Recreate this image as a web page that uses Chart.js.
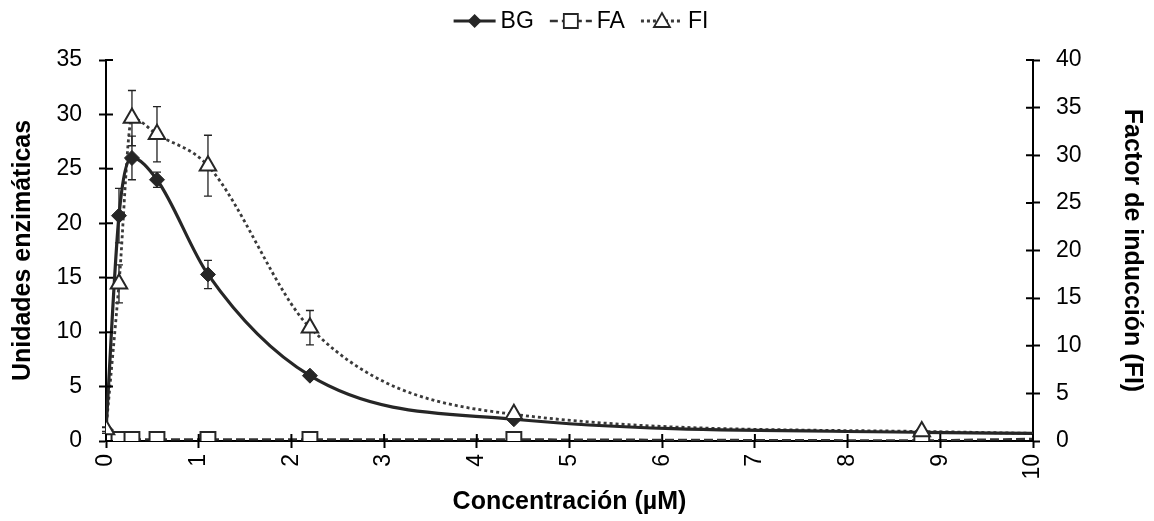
<!DOCTYPE html>
<html>
<head>
<meta charset="utf-8">
<script src="https://cdn.jsdelivr.net/npm/chart.js@4.4.1/dist/chart.umd.min.js"></script>
<style>
  html, body { margin: 0; padding: 0; background: #fff; }
  #wrap { width: 1154px; height: 521px; }
</style>
</head>
<body>
<div id="wrap"><canvas id="chart" width="1154" height="521"></canvas></div>
<script>
// Concentración (µM) of each measured point
const concentration = [0, 0.14, 0.28, 0.55, 1.1, 2.2, 4.4, 8.8];
// BG and FA: unidades enzimáticas (left axis)
const bgValues = [1.0, 20.7, 26.0, 24.0, 15.3, 6.0, 2.0, 0.8];
const bgErrors = [0.3, 2.5, 2.0, 0.7, 1.3, 0.3, 0.2, 0.1];
const faValues = [0.15, 0.15, 0.15, 0.15, 0.15, 0.15, 0.15, 0.05];
// FI: factor de inducción (right axis)
const fiValues = [1.2, 16.5, 33.9, 32.2, 28.9, 11.9, 2.8, 1.0];
const fiErrors = [0.2, 2.0, 2.9, 2.9, 3.2, 1.8, 0.3, 0.2];
// the fitted curves run on to the end of the axis
const curveEndX = 10;
const bgCurveEnd = 0.7;
const faCurveEnd = 0.2;
const fiCurveEnd = 0.8;

const seriesNames = ['BG', 'FA', 'FI'];
const xTicks = [0, 1, 2, 3, 4, 5, 6, 7, 8, 9, 10];
const leftTicks = [0, 5, 10, 15, 20, 25, 30, 35];
const rightTicks = [0, 5, 10, 15, 20, 25, 30, 35, 40];

const FONT = "'Liberation Sans', Arial, sans-serif";
const INK = '#262626';

function points(values, endY) {
  const pts = concentration.map((x, i) => ({ x: x, y: values[i] }));
  if (endY !== undefined) pts.push({ x: curveEndX, y: endY });
  return pts;
}

function fixedTicks(list) {
  return scale => { scale.ticks = list.map(v => ({ value: v })); };
}

// vertical error bars with small caps
const errorBars = {
  id: 'errorBars',
  beforeDatasetsDraw(chart) {
    const ctx = chart.ctx;
    const x = chart.scales.x;
    const sets = [
      { scale: chart.scales.y, vals: bgValues, errs: bgErrors },
      { scale: chart.scales.y1, vals: fiValues, errs: fiErrors }
    ];
    ctx.save();
    ctx.strokeStyle = '#222';
    ctx.lineWidth = 1.3;
    sets.forEach(s => {
      s.vals.forEach((v, i) => {
        const px = x.getPixelForValue(concentration[i]);
        const top = s.scale.getPixelForValue(v + s.errs[i]);
        const bot = s.scale.getPixelForValue(v - s.errs[i]);
        ctx.beginPath();
        ctx.moveTo(px, top); ctx.lineTo(px, bot);
        ctx.moveTo(px - 4, top); ctx.lineTo(px + 4, top);
        ctx.moveTo(px - 4, bot); ctx.lineTo(px + 4, bot);
        ctx.stroke();
      });
    });
    ctx.restore();
  }
};

// tick marks that cross the axis lines
const innerTicks = {
  id: 'innerTicks',
  afterDraw(chart) {
    const ctx = chart.ctx;
    const { x, y, y1 } = chart.scales;
    ctx.save();
    ctx.strokeStyle = '#000';
    ctx.lineWidth = 2;
    ctx.beginPath();
    x.ticks.forEach(t => {
      const px = x.getPixelForValue(t.value);
      ctx.moveTo(px, x.top); ctx.lineTo(px, x.top - 7);
    });
    y.ticks.forEach(t => {
      const py = y.getPixelForValue(t.value);
      ctx.moveTo(y.right, py); ctx.lineTo(y.right + 7, py);
    });
    y1.ticks.forEach(t => {
      const py = y1.getPixelForValue(t.value);
      ctx.moveTo(y1.left, py); ctx.lineTo(y1.left - 7, py);
    });
    ctx.stroke();
    ctx.restore();
  }
};

// legend drawn like the original: line sample with marker, then name
const lineLegend = {
  id: 'lineLegend',
  afterDraw(chart) {
    const ctx = chart.ctx;
    const cy = 21;
    const sampleW = 42;
    const styles = [
      { dash: [], width: 3, color: INK, marker: 'diamond' },
      { dash: [8, 4], width: 2.5, color: '#333', marker: 'square' },
      { dash: [3, 3], width: 2.8, color: '#3a3a3a', marker: 'triangle' }
    ];
    ctx.save();
    ctx.font = '23px ' + FONT;
    const gap = 5, between = 16;
    let total = 0;
    seriesNames.forEach((n, i) => {
      total += sampleW + gap + ctx.measureText(n).width + (i ? between : 0);
    });
    let cx = 581 - total / 2;
    seriesNames.forEach((name, i) => {
      const st = styles[i];
      ctx.setLineDash(st.dash);
      ctx.strokeStyle = st.color;
      ctx.lineWidth = st.width;
      ctx.beginPath();
      ctx.moveTo(cx, cy); ctx.lineTo(cx + sampleW, cy);
      ctx.stroke();
      ctx.setLineDash([]);
      const mx = cx + sampleW / 2;
      ctx.lineWidth = 1.8;
      ctx.strokeStyle = INK;
      ctx.beginPath();
      if (st.marker === 'diamond') {
        ctx.fillStyle = INK;
        ctx.moveTo(mx, cy - 7); ctx.lineTo(mx + 7, cy); ctx.lineTo(mx, cy + 7); ctx.lineTo(mx - 7, cy);
        ctx.closePath(); ctx.fill();
      } else if (st.marker === 'square') {
        ctx.fillStyle = '#fff';
        ctx.rect(mx - 7, cy - 7, 14, 14); ctx.fill(); ctx.stroke();
      } else {
        ctx.fillStyle = '#fff';
        ctx.moveTo(mx, cy - 8); ctx.lineTo(mx + 8, cy + 6); ctx.lineTo(mx - 8, cy + 6);
        ctx.closePath(); ctx.fill(); ctx.stroke();
      }
      ctx.fillStyle = '#000';
      ctx.textBaseline = 'middle';
      ctx.textAlign = 'left';
      ctx.fillText(name, cx + sampleW + gap, cy + 1);
      cx += sampleW + gap + ctx.measureText(name).width + between;
    });
    ctx.restore();
  }
};

const tickFont = { family: FONT, size: 23 };
const titleFont = { family: FONT, size: 25, weight: 'bold' };
const axisGrid = { drawOnChartArea: false, tickLength: 7, color: '#000', tickColor: '#000', tickWidth: 2 };
const axisBorder = { color: '#000', width: 2 };

new Chart(document.getElementById('chart'), {
  type: 'scatter',
  data: {
    datasets: [
      { label: 'BG curve', data: points(bgValues, bgCurveEnd), yAxisID: 'y', showLine: true,
        borderColor: INK, borderWidth: 3.2, cubicInterpolationMode: 'monotone', pointRadius: 0, order: 10 },
      { label: 'FI curve', data: points(fiValues, fiCurveEnd), yAxisID: 'y1', showLine: true,
        borderColor: '#3a3a3a', borderWidth: 2.8, borderDash: [3, 3], cubicInterpolationMode: 'monotone', pointRadius: 0, order: 11 },
      { label: 'FA curve', data: points(faValues, faCurveEnd), yAxisID: 'y', showLine: true,
        borderColor: '#333', borderWidth: 2.2, borderDash: [9, 4], pointRadius: 0, order: 12 },
      { label: seriesNames[0], data: points(bgValues), yAxisID: 'y', showLine: false,
        pointStyle: 'rectRot', pointRadius: 7.5, backgroundColor: INK, borderColor: INK, borderWidth: 1, order: 3 },
      { label: seriesNames[1], data: points(faValues), yAxisID: 'y', showLine: false,
        pointStyle: 'rect', pointRadius: 10.5, backgroundColor: '#fff', borderColor: INK, borderWidth: 2, order: 2 },
      { label: seriesNames[2], data: points(fiValues), yAxisID: 'y1', showLine: false,
        pointStyle: 'triangle', pointRadius: 9.5, backgroundColor: '#fff', borderColor: INK, borderWidth: 2, order: 1 }
    ]
  },
  options: {
    responsive: false,
    animation: false,
    devicePixelRatio: 1,
    layout: { padding: { top: 60, left: 0, right: 0, bottom: 0 } },
    plugins: { legend: { display: false }, tooltip: { enabled: false } },
    scales: {
      x: {
        type: 'linear', min: xTicks[0], max: xTicks[xTicks.length - 1],
        afterBuildTicks: fixedTicks(xTicks),
        afterFit: s => { s.height = 80; },
        ticks: { font: tickFont, color: '#000', minRotation: 90, maxRotation: 90, padding: 6 },
        grid: axisGrid, border: axisBorder,
        title: { display: true, text: 'Concentración (µM)', font: titleFont, color: '#000', padding: { top: 0, bottom: 4 } }
      },
      y: {
        position: 'left', min: leftTicks[0], max: leftTicks[leftTicks.length - 1],
        afterBuildTicks: fixedTicks(leftTicks),
        afterFit: s => { s.width = 106; },
        ticks: { font: tickFont, color: '#000', padding: 17 },
        grid: axisGrid, border: axisBorder,
        title: { display: true, text: 'Unidades enzimáticas', font: titleFont, color: '#000', padding: { top: 8, bottom: 0 } }
      },
      y1: {
        position: 'right', min: rightTicks[0], max: rightTicks[rightTicks.length - 1],
        afterBuildTicks: fixedTicks(rightTicks),
        afterFit: s => { s.width = 121; },
        ticks: { font: tickFont, color: '#000', padding: 16 },
        grid: axisGrid, border: axisBorder,
        title: { display: true, text: 'Factor de inducción (FI)', font: titleFont, color: '#000', padding: { top: 7, bottom: 0 } }
      }
    }
  },
  plugins: [errorBars, innerTicks, lineLegend]
});
</script>
</body>
</html>
